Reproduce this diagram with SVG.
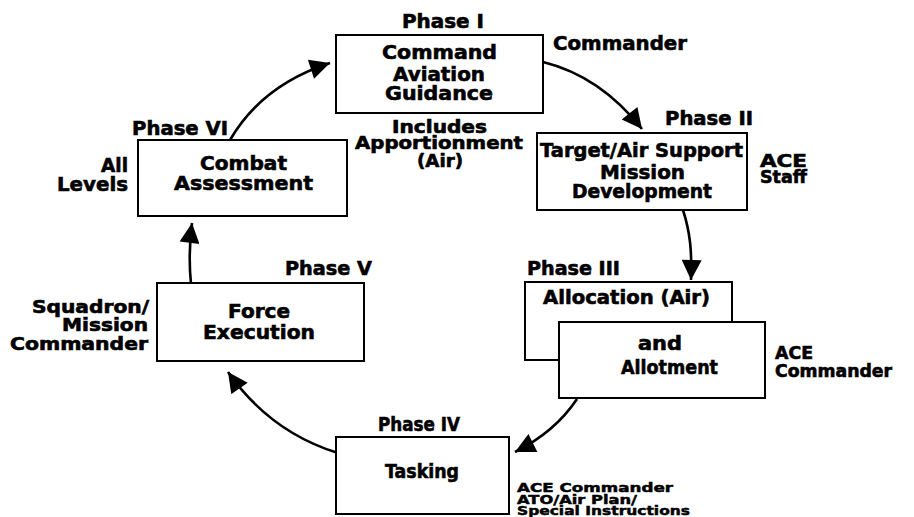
<svg xmlns="http://www.w3.org/2000/svg" width="914" height="517" viewBox="0 0 914 517">
<style>
text{font-family:"DejaVu Sans","Liberation Sans",sans-serif;font-weight:bold;fill:#000;stroke:#000;stroke-width:0.6;font-size:19px}
.s{font-size:13px;stroke-width:0.5}
.m{font-size:17px}
.box{fill:#fff;stroke:#000;stroke-width:2}
.con{fill:none;stroke:#000;stroke-width:2.6}
</style>
<defs>
<marker id="ah" viewBox="0 0 10 10" refX="10" refY="5" markerUnits="userSpaceOnUse" markerWidth="22" markerHeight="20" orient="auto">
<path d="M0,0 L10,5 L0,10 z" fill="#000"/>
</marker>
</defs>
<rect width="914" height="517" fill="#fff"/>
<g id="connectors">
<path class="con" marker-end="url(#ah)" d="M543,62 Q600,76 642,129"/>
<path class="con" marker-end="url(#ah)" d="M683,210 C690,232 692,250 691,280"/>
<path class="con" marker-end="url(#ah)" d="M577,399 Q555,432 515,452"/>
<path class="con" marker-end="url(#ah)" d="M338,453 Q270,432 228,372"/>
<path class="con" marker-end="url(#ah)" d="M191,284 Q188,255 192,223"/>
<path class="con" marker-end="url(#ah)" d="M230,140 Q262,85 330,63"/>
</g>
<g id="phase1">
<rect class="box" x="336" y="35" width="207" height="78"/>
<text x="402" y="28" textLength="82" lengthAdjust="spacingAndGlyphs">Phase I</text>
<text x="382" y="59" textLength="115" lengthAdjust="spacingAndGlyphs">Command</text>
<text x="393" y="81" textLength="92" lengthAdjust="spacingAndGlyphs">Aviation</text>
<text x="385" y="100" textLength="108" lengthAdjust="spacingAndGlyphs">Guidance</text>
<text x="553" y="50" textLength="134" lengthAdjust="spacingAndGlyphs">Commander</text>
<text class="m" x="392" y="133" textLength="95" lengthAdjust="spacingAndGlyphs">Includes</text>
<text class="m" x="355" y="149" textLength="168" lengthAdjust="spacingAndGlyphs">Apportionment</text>
<text class="m" x="417" y="167" textLength="46" lengthAdjust="spacingAndGlyphs">(Air)</text>
</g>
<g id="phase2">
<rect class="box" x="537" y="133" width="210" height="77"/>
<text x="665" y="125" textLength="88" lengthAdjust="spacingAndGlyphs">Phase II</text>
<text x="540" y="157" textLength="203" lengthAdjust="spacingAndGlyphs">Target/Air Support</text>
<text x="600" y="179" textLength="85" lengthAdjust="spacingAndGlyphs">Mission</text>
<text x="572" y="198" textLength="140" lengthAdjust="spacingAndGlyphs">Development</text>
<text class="m" x="760" y="167" textLength="47" lengthAdjust="spacingAndGlyphs">ACE</text>
<text class="m" x="760" y="183" textLength="47" lengthAdjust="spacingAndGlyphs">Staff</text>
</g>
<g id="phase3">
<rect class="box" x="525" y="282" width="207" height="78"/>
<rect class="box" x="559" y="322" width="206" height="76"/>
<text x="527" y="275" textLength="93" lengthAdjust="spacingAndGlyphs">Phase III</text>
<text x="543" y="304" textLength="167" lengthAdjust="spacingAndGlyphs">Allocation (Air)</text>
<text x="638" y="350" textLength="44" lengthAdjust="spacingAndGlyphs">and</text>
<text x="621" y="374" textLength="97" lengthAdjust="spacingAndGlyphs">Allotment</text>
<text class="m" x="775" y="359" textLength="38" lengthAdjust="spacingAndGlyphs">ACE</text>
<text class="m" x="775" y="377" textLength="117" lengthAdjust="spacingAndGlyphs">Commander</text>
</g>
<g id="phase4">
<rect class="box" x="336" y="437" width="173" height="77"/>
<text x="378" y="431" textLength="82" lengthAdjust="spacingAndGlyphs">Phase IV</text>
<text x="385" y="478" textLength="74" lengthAdjust="spacingAndGlyphs">Tasking</text>
<text class="s" x="517" y="492" textLength="156" lengthAdjust="spacingAndGlyphs">ACE Commander</text>
<text class="s" x="517" y="504" textLength="120" lengthAdjust="spacingAndGlyphs">ATO/Air Plan/</text>
<text class="s" x="517" y="515" textLength="173" lengthAdjust="spacingAndGlyphs">Special Instructions</text>
</g>
<g id="phase5">
<rect class="box" x="157" y="283" width="207" height="78"/>
<text x="285" y="275" textLength="87" lengthAdjust="spacingAndGlyphs">Phase V</text>
<text x="228" y="318" textLength="62" lengthAdjust="spacingAndGlyphs">Force</text>
<text x="203" y="339" textLength="112" lengthAdjust="spacingAndGlyphs">Execution</text>
<text class="m" x="32" y="313" textLength="117" lengthAdjust="spacingAndGlyphs">Squadron/</text>
<text class="m" x="62" y="331" textLength="86" lengthAdjust="spacingAndGlyphs">Mission</text>
<text class="m" x="10" y="350" textLength="138" lengthAdjust="spacingAndGlyphs">Commander</text>
</g>
<g id="phase6">
<rect class="box" x="138" y="140" width="209" height="76"/>
<text x="132" y="135" textLength="96" lengthAdjust="spacingAndGlyphs">Phase VI</text>
<text x="200" y="170" textLength="87" lengthAdjust="spacingAndGlyphs">Combat</text>
<text x="174" y="190" textLength="139" lengthAdjust="spacingAndGlyphs">Assessment</text>
<text x="101" y="172" textLength="27" lengthAdjust="spacingAndGlyphs">All</text>
<text x="57" y="191" textLength="71" lengthAdjust="spacingAndGlyphs">Levels</text>
</g>
</svg>
